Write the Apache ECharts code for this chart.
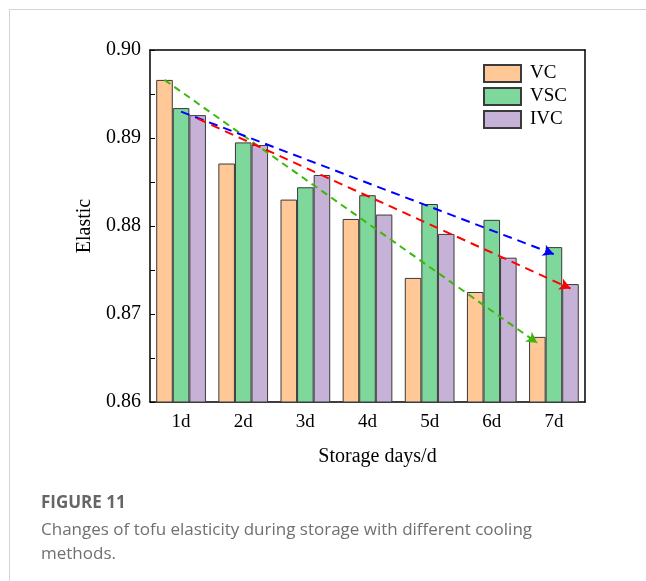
<!DOCTYPE html>
<html>
<head>
<meta charset="utf-8">
<script src="https://cdn.jsdelivr.net/npm/echarts@6/dist/echarts.min.js"></script>
<style>
  html, body { margin: 0; padding: 0; background: #fff; }
  #chart { width: 646px; height: 581px; }
</style>
</head>
<body>
<div id="chart"></div>
<script>
// data
var days = ['1d', '2d', '3d', '4d', '5d', '6d', '7d'];
var vc  = [0.8966, 0.8871, 0.8830, 0.8808, 0.8741, 0.8725, 0.8674];
var vsc = [0.8934, 0.8895, 0.8844, 0.8835, 0.8825, 0.8807, 0.8776];
var ivc = [0.8926, 0.8892, 0.8858, 0.8813, 0.8791, 0.8764, 0.8734];
var yTicks = [0.86, 0.87, 0.88, 0.89, 0.90];
// dashed trend arrows: [start at 1d, end at 7d]
var trendVC  = [0.8966, 0.8667];
var trendVSC = [0.8930, 0.8768];
var trendIVC = [0.8922, 0.8729];

var serif = "'Liberation Serif', 'Times New Roman', serif";
var barW = 0.8 / 3; // bar width in category units (20% category gap, 3 bars)

function trend(name, vals, slot, color, dash) {
  var off = (slot - 1) * barW;
  return {
    name: name, type: 'line', xAxisIndex: 2, yAxisIndex: 0, data: [],
    silent: true, legendHoverLink: false,
    markLine: {
      silent: true, animation: false,
      symbol: ['none', 'arrow'], symbolSize: [9, 11],
      label: { show: false },
      lineStyle: { color: color, width: 2, type: dash },
      emphasis: { disabled: true },
      data: [[{ coord: [0 + off, vals[0]] }, { coord: [days.length - 1 + off, vals[1]] }]]
    }
  };
}

var chart = echarts.init(document.getElementById('chart'));
var axisBlack = { onZero: false, lineStyle: { color: '#000', width: 1.5 } };

chart.setOption({
  animation: false,
  grid: { left: 150, top: 50, width: 435, height: 352 },
  legend: {
    data: ['VC', 'VSC', 'IVC'],
    orient: 'vertical', left: 483, top: 64, padding: 0,
    icon: 'rect', itemWidth: 37, itemHeight: 17, itemGap: 4,
    textStyle: { fontFamily: serif, fontSize: 19, color: '#000', padding: [0, 0, 0, 4] }
  },
  xAxis: [
    {
      type: 'category', data: days, position: 'bottom',
      axisLine: axisBlack,
      axisTick: { inside: true, length: 3, lineStyle: { color: '#000' } },
      axisLabel: { fontFamily: serif, fontSize: 19, color: '#000', margin: 11 },
      name: 'Storage days/d', nameLocation: 'middle', nameGap: 45,
      nameTextStyle: { fontFamily: serif, fontSize: 20, color: '#000', padding: [0, 0, 0, 20] }
    },
    {
      type: 'category', data: days, position: 'bottom',
      axisLine: { show: false },
      axisTick: { inside: true, alignWithLabel: true, length: 5, lineStyle: { color: '#000' } },
      axisLabel: { show: false }
    },
    {
      type: 'value', position: 'top', min: -0.5, max: days.length - 0.5,
      axisLine: axisBlack, axisTick: { show: false }, axisLabel: { show: false },
      splitLine: { show: false }
    }
  ],
  yAxis: [
    {
      type: 'value', min: yTicks[0], max: yTicks[yTicks.length - 1], interval: 0.01,
      axisLine: { show: true, onZero: false, lineStyle: { color: '#000', width: 1.5 } },
      axisTick: { show: true, inside: true, length: 5, lineStyle: { color: '#000' } },
      minorTick: { show: true, splitNumber: 2, length: 5, lineStyle: { color: '#000' } },
      axisLabel: {
        fontFamily: serif, fontSize: 20, color: '#000', margin: 9,
        formatter: function (v) { return v.toFixed(2); }
      },
      splitLine: { show: false },
      name: 'Elastic', nameLocation: 'middle', nameGap: 52,
      nameTextStyle: { fontFamily: serif, fontSize: 20, color: '#000' }
    },
    {
      type: 'value', position: 'right', min: yTicks[0], max: yTicks[yTicks.length - 1],
      axisLine: { show: true, onZero: false, lineStyle: { color: '#000', width: 1.5 } },
      axisTick: { show: false }, axisLabel: { show: false }, splitLine: { show: false }
    }
  ],
  series: [
    { name: 'VC', type: 'bar', data: vc, barGap: '0%', barCategoryGap: '20%',
      itemStyle: { color: '#FFC896', borderColor: '#3a3a3a', borderWidth: 1 } },
    { name: 'VSC', type: 'bar', data: vsc, barGap: '0%', barCategoryGap: '20%',
      itemStyle: { color: '#7ED89B', borderColor: '#3a3a3a', borderWidth: 1 } },
    { name: 'IVC', type: 'bar', data: ivc, barGap: '0%', barCategoryGap: '20%',
      itemStyle: { color: '#C6B2D6', borderColor: '#3a3a3a', borderWidth: 1 } },
    trend('trendVC', trendVC, 0, '#3CB80A', [7, 5]),
    trend('trendVSC', trendVSC, 1, '#0000FF', [9, 6]),
    trend('trendIVC', trendIVC, 2, '#FF0000', [9, 6])
  ],
  graphic: [
    { type: 'line', shape: { x1: 9, y1: 9.5, x2: 646, y2: 9.5 }, style: { stroke: '#d4d4d4', lineWidth: 1 } },
    { type: 'line', shape: { x1: 9.5, y1: 9, x2: 9.5, y2: 581 }, style: { stroke: '#d4d4d4', lineWidth: 1 } },
    { type: 'text', left: 41, top: 495,
      style: { text: 'FIGURE 11', font: "bold 17px 'Open Sans', sans-serif", fill: '#666' } },
    { type: 'text', left: 41, top: 518,
      style: { text: 'Changes of tofu elasticity during storage with different cooling\nmethods.',
               font: "17px 'Open Sans', sans-serif", fill: '#707070', lineHeight: 24 } }
  ]
});
</script>
</body>
</html>
